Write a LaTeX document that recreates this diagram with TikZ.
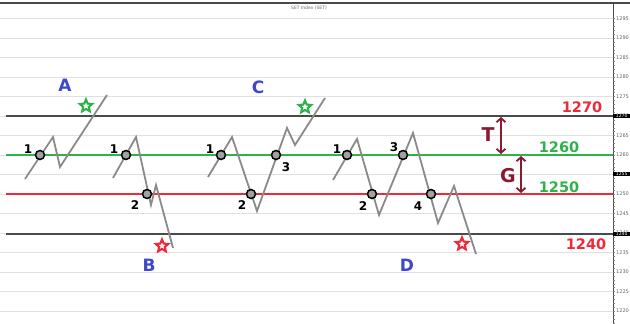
\documentclass[tikz,border=0pt]{standalone}
\usepackage{fontspec}
\setmainfont{DejaVu Sans}
\usetikzlibrary{shapes.geometric,arrows.meta}
\definecolor{pgray}{HTML}{8A8A8A}
\definecolor{lgreen}{HTML}{2DB34A}
\definecolor{lred}{HTML}{EE2A3A}
\definecolor{lblue}{HTML}{3F48CC}
\definecolor{dred}{HTML}{8B1A2E}
\definecolor{grid}{HTML}{E0E0E0}
\definecolor{dline}{HTML}{4A4A4A}
\tikzset{
  price/.style={draw=pgray,line width=1.8pt,line join=miter},
  pt/.style={circle,draw=black,fill=pgray!80,line width=1.5pt,minimum size=9pt,inner sep=0pt},
  num/.style={font=\fontsize{12}{12}\selectfont\bfseries,text=black,inner sep=0pt},
  letter/.style={font=\fontsize{17}{17}\selectfont\bfseries,text=lblue,inner sep=0pt},
  gstar/.style={star,star points=5,star point ratio=2.2,draw=lgreen,line width=2.1pt,minimum size=13pt,inner sep=0pt},
  rstar/.style={star,star points=5,star point ratio=2.2,draw=lred,line width=2.1pt,minimum size=13pt,inner sep=0pt},
  lvl/.style={font=\fontsize{14.5}{14.5}\selectfont\bfseries,inner sep=0pt},
  ax/.style={font=\fontsize{5}{5}\selectfont,text=black!60,anchor=west,inner sep=0pt},
  axbox/.style={fill=black,text=white,font=\fontsize{4.5}{4.5}\selectfont,anchor=west,inner sep=0.6pt,minimum width=17pt},
  dim/.style={draw=dred,line width=1.8pt,{Straight Barb[length=4pt,width=9pt]}-{Straight Barb[length=4pt,width=9pt]}},
  dimlab/.style={font=\fontsize{19}{19}\selectfont\bfseries,text=dred,inner sep=0pt}
}
\begin{document}
\begin{tikzpicture}[x=1pt,y=-1pt]
\useasboundingbox (0,0) rectangle (630,324);
\fill[white] (0,0) rectangle (630,324);
% grid lines every 5 units
\foreach \v in {1295,1290,...,1220}{
  \draw[grid,line width=0.9pt] (0,{116+(1270-\v)*3.9}) -- (613,{116+(1270-\v)*3.9});
}
% top border
\draw[dline,line width=1.2pt] (0,3) -- (630,3);
\node[font=\fontsize{4.5}{4.5}\selectfont,text=black!60] (title) at (309,8) {SET Index (SET)};
% axis
\draw[dline,line width=0.8pt] (613,3) -- (613,324);
\foreach \k in {0,...,80}{
  \draw[gray,line width=0.3pt] (613,{18.5+\k*3.9}) -- (615,{18.5+\k*3.9});
}
\foreach \v in {1295,1290,...,1220}{
  \node[ax] at (616,{116+(1270-\v)*3.9}) {\v};
}
\node[axbox] (b1270) at (613,116) {1270};
\node[axbox] (b1255) at (613,174) {1255};
\node[axbox] (b1240) at (613,234) {1240};
% level lines
\draw[dline,line width=1.8pt] (6,116) -- (613,116);
\draw[dline,line width=1.8pt] (6,234) -- (613,234);
\draw[lgreen,line width=2.2pt] (6,155) -- (613,155);
\draw[lred,line width=2.2pt] (6,194) -- (613,194);
% price paths
\draw[price] (25,179) -- (53,137) -- (60,167) -- (107,95);
\draw[price] (113,178) -- (136,137) -- (151,205) -- (156,185) -- (173,248);
\draw[price] (208,177) -- (232,137) -- (257,211) -- (287,128) -- (295,145) -- (325,98);
\draw[price] (333,180) -- (357,139) -- (379,215) -- (413,133) -- (438,223) -- (454,186) -- (476,254);
% points
\node[pt] (a1) at (40,155) {};
\node[num] (a1l) at (28,149) {1};
\node[pt] (b1) at (126,155) {};
\node[num] (b1l) at (114,149) {1};
\node[pt] (b2) at (147,194) {};
\node[num] (b2l) at (135,205) {2};
\node[pt] (c1) at (221,155) {};
\node[num] (c1l) at (210,149) {1};
\node[pt] (c2) at (251,194) {};
\node[num] (c2l) at (242,205) {2};
\node[pt] (c3) at (276,155) {};
\node[num] (c3l) at (286,167) {3};
\node[pt] (d1) at (347,155) {};
\node[num] (d1l) at (337,149) {1};
\node[pt] (d2) at (372,194) {};
\node[num] (d2l) at (363,206) {2};
\node[pt] (d3) at (403,155) {};
\node[num] (d3l) at (394,147) {3};
\node[pt] (d4) at (431,194) {};
\node[num] (d4l) at (418,206) {4};
% stars
\node[gstar] (sa) at (86,106) {};
\node[rstar] (sb) at (162,246) {};
\node[gstar] (sc) at (305,107) {};
\node[rstar] (sd) at (462,244) {};
% letters
\node[letter] (A) at (65,85) {A};
\node[letter] (B) at (149,265) {B};
\node[letter] (C) at (258,87) {C};
\node[letter] (D) at (407,265) {D};
% level labels
\node[lvl,text=lred] (l1270) at (582,107) {1270};
\node[lvl,text=lgreen] (l1260) at (559,147) {1260};
\node[lvl,text=lgreen] (l1250) at (559,187) {1250};
\node[lvl,text=lred] (l1240) at (586,244) {1240};
% T and G
\coordinate (t1) at (501,117);
\coordinate (t2) at (501,154);
\draw[dim] (t1) -- (t2);
\node[dimlab] (T) at (488,135) {T};
\coordinate (g1) at (521,156);
\coordinate (g2) at (521,193);
\draw[dim] (g1) -- (g2);
\node[dimlab] (G) at (508,176) {G};
\end{tikzpicture}
\end{document}
